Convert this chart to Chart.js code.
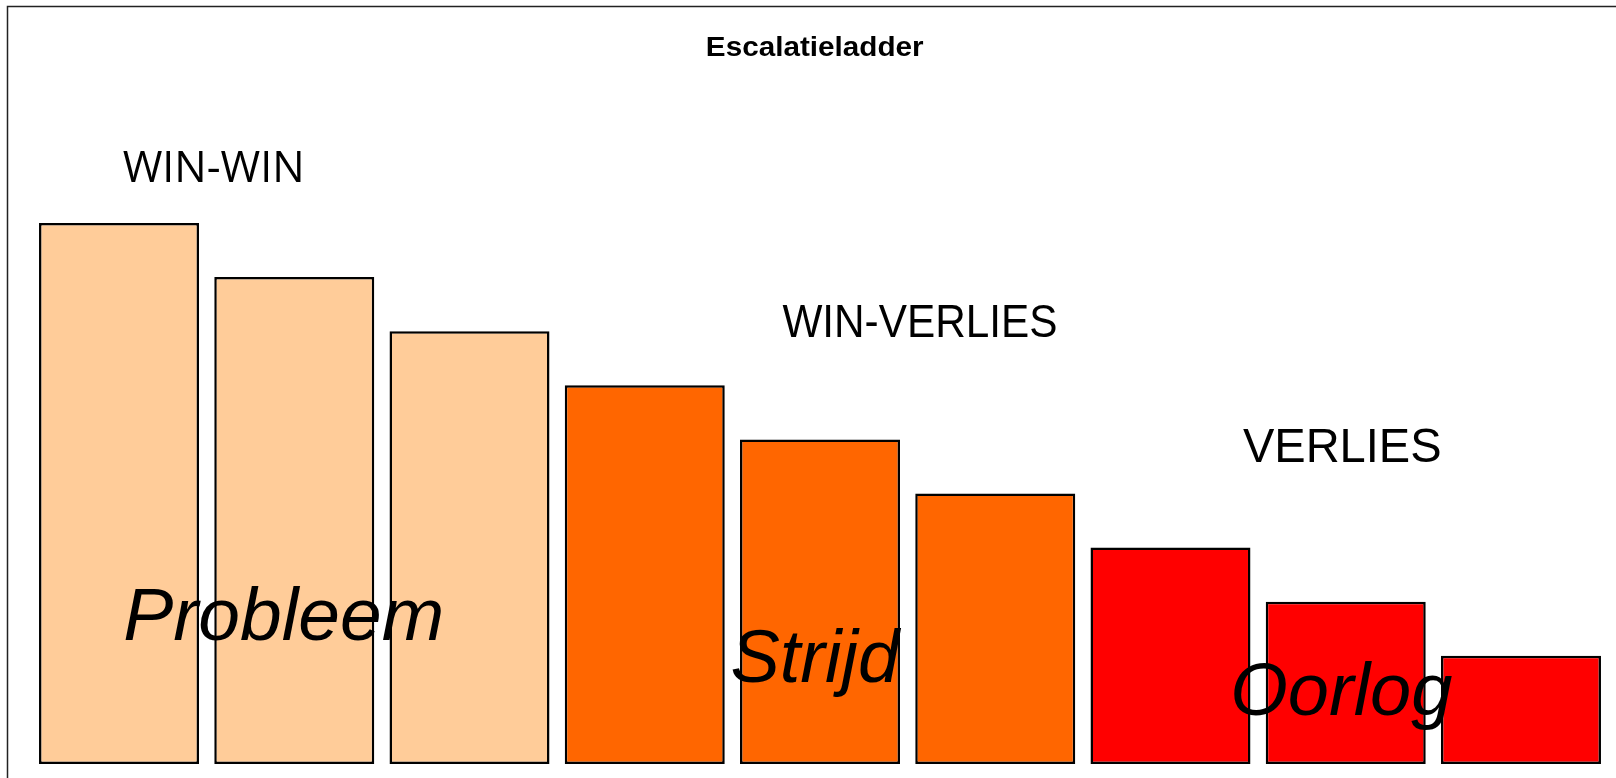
<!DOCTYPE html>
<html lang="nl">
<head>
    <meta charset="UTF-8">
    <title>Escalatieladder</title>
    <script src="https://cdn.jsdelivr.net/npm/chart.js"></script>
    <style>
        html, body { margin: 0; padding: 0; background: #fff; }
        .chart-container { width: 1616px; height: 778px; position: relative; }
    </style>
</head>
<body>

    <div class="chart-container">
        <canvas id="ladderChart"></canvas>
    </div>

    <script>
        // Treden van de ladder
        const treden = ['1', '2', '3', '4', '5', '6', '7', '8', '9'];
        const hoogte = [10, 9, 8, 7, 6, 5, 4, 3, 2];
        const fase = ['Probleem', 'Probleem', 'Probleem', 'Strijd', 'Strijd', 'Strijd', 'Oorlog', 'Oorlog', 'Oorlog'];

        const titel = 'Escalatieladder';
        const uitkomsten = ['WIN-WIN', 'WIN-VERLIES', 'VERLIES'];
        const fasen = ['Probleem', 'Strijd', 'Oorlog'];

        // kleuren per fase
        const kleur = { Probleem: '#FFCC99', Strijd: '#FF6600', Oorlog: '#FF0000' };

        // teksten, geplaatst in waarden van de assen (x = trede-index, y = hoogte)
        const teksten = [
            { text: titel, x: 3.97, y: 13.23, font: 'bold 28px "Liberation Sans", Arial', sx: 1.06, base: 'middle' },
            { text: uitkomsten[0], x: 0.54, y: 10.76, font: '43px "Open Sans"', sx: 1 },
            { text: uitkomsten[1], x: 4.57, y: 7.89, font: '47px "Liberation Sans", Arial', sx: 0.9 },
            { text: uitkomsten[2], x: 6.98, y: 5.58, font: '49px "Liberation Sans", Arial', sx: 0.96 },
            { text: fasen[0], x: 0.94, y: 2.29, font: 'italic 75px "Liberation Sans", Arial', sx: 1 },
            { text: fasen[1], x: 3.97, y: 1.52, font: 'italic 74px "Liberation Sans", Arial', sx: 1 },
            { text: fasen[2], x: 6.975, y: 0.91, font: 'italic 74px "Liberation Sans", Arial', sx: 1 }
        ];

        const kader = {
            id: 'kader',
            beforeDraw(chart) {
                const ctx = chart.ctx;
                ctx.save();
                ctx.strokeStyle = '#222';
                ctx.lineWidth = 1.5;
                ctx.strokeRect(7.5, 6.5, chart.width + 20, chart.height + 20);
                ctx.restore();
            }
        };

        const tekstLaag = {
            id: 'tekstLaag',
            afterDatasetsDraw(chart) {
                const ctx = chart.ctx;
                const xs = chart.scales.x, ys = chart.scales.y;
                ctx.save();
                ctx.fillStyle = '#000';
                ctx.textAlign = 'center';
                teksten.forEach(t => {
                    const px = xs.getPixelForValue(t.x);
                    const py = ys.getPixelForValue(t.y);
                    ctx.font = t.font;
                    ctx.textBaseline = t.base || 'alphabetic';
                    ctx.save();
                    ctx.translate(px, py);
                    ctx.scale(t.sx, 1);
                    ctx.fillText(t.text, 0, 0);
                    ctx.restore();
                });
                ctx.restore();
            }
        };

        var ctx = document.getElementById('ladderChart').getContext('2d');
        var ladderChart = new Chart(ctx, {
            type: 'bar',
            data: {
                labels: treden,
                datasets: [{
                    data: hoogte,
                    backgroundColor: fase.map(f => kleur[f]),
                    borderColor: '#000',
                    borderWidth: 2.5,
                    borderSkipped: false,
                    barPercentage: 0.913,
                    categoryPercentage: 1
                }]
            },
            options: {
                responsive: true,
                maintainAspectRatio: false,
                animation: false,
                layout: { padding: { left: 31.4, right: 7.4, top: 6.6, bottom: 14 } },
                plugins: {
                    legend: { display: false },
                    title: { display: false },
                    tooltip: { enabled: false }
                },
                scales: {
                    x: { display: false },
                    y: { display: false, min: 0, max: 14 }
                }
            },
            plugins: [kader, tekstLaag]
        });
    </script>

</body>
</html>
